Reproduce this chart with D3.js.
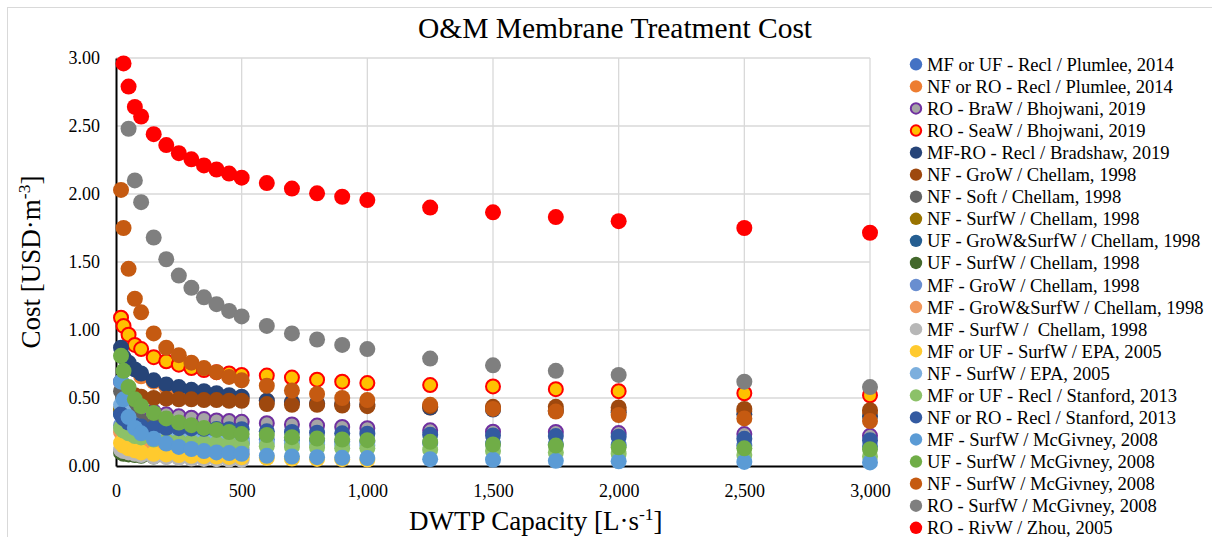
<!DOCTYPE html>
<html>
<head>
<meta charset="utf-8">
<script src="https://cdn.jsdelivr.net/npm/d3@7"></script>
<style>
  body { margin: 0; background: #fff; }
  text { font-family: "Liberation Serif", "Times New Roman", serif; fill: #000; }
</style>
</head>
<body>
<div class="chart"></div>
<script>
// capacity steps shared by all curves [L/s]
var capacity = [20, 30, 50, 75, 100, 150, 200, 250, 300, 350, 400, 450, 500,
  600, 700, 800, 900, 1000, 1250, 1500, 1750, 2000, 2500, 3000];

var seriesNames = [
  "MF or UF - Recl / Plumlee, 2014",
  "NF or RO - Recl / Plumlee, 2014",
  "RO - BraW / Bhojwani, 2019",
  "RO - SeaW / Bhojwani, 2019",
  "MF-RO - Recl / Bradshaw, 2019",
  "NF - GroW / Chellam, 1998",
  "NF - Soft / Chellam, 1998",
  "NF - SurfW / Chellam, 1998",
  "UF - GroW&SurfW / Chellam, 1998",
  "UF - SurfW / Chellam, 1998",
  "MF - GroW / Chellam, 1998",
  "MF - GroW&SurfW / Chellam, 1998",
  "MF - SurfW /  Chellam, 1998",
  "MF or UF - SurfW / EPA, 2005",
  "NF - SurfW / EPA, 2005",
  "MF or UF - Recl / Stanford, 2013",
  "NF or RO - Recl / Stanford, 2013",
  "MF - SurfW / McGivney, 2008",
  "UF - SurfW / McGivney, 2008",
  "NF - SurfW / McGivney, 2008",
  "RO - SurfW / McGivney, 2008",
  "RO - RivW / Zhou, 2005"
];

// O&M cost [USD/m3], one value per capacity step (null = not shown)
var plumleeMfUf = [0.40, 0.36, 0.31, 0.28, 0.26, 0.24, 0.23, 0.225, 0.22, 0.215, 0.21, 0.205, 0.20,
  0.195, 0.19, 0.185, 0.18, 0.178, 0.17, 0.165, 0.16, 0.155, 0.15, 0.145];
var plumleeNfRo = [null, null, null, null, 0.66, 0.62, 0.58, 0.56, 0.54, 0.53, 0.52, 0.51, 0.50,
  0.48, 0.47, 0.46, 0.455, 0.45, 0.43, 0.42, 0.41, 0.41, 0.40, 0.39];
var bhojwaniBraW = [0.62, 0.55, 0.48, 0.44, 0.42, 0.40, 0.38, 0.365, 0.355, 0.345, 0.335, 0.33, 0.325,
  0.315, 0.305, 0.297, 0.287, 0.278, 0.262, 0.252, 0.25, 0.242, 0.235, 0.222];
var bhojwaniSeaW = [1.09, 1.03, 0.965, 0.89, 0.86, 0.80, 0.77, 0.745, 0.72, 0.705, 0.69, 0.68, 0.67,
  0.665, 0.65, 0.635, 0.62, 0.61, 0.595, 0.585, 0.565, 0.55, 0.535, 0.52];
var bradshawMfRo = [0.87, 0.80, 0.76, 0.71, 0.68, 0.63, 0.60, 0.58, 0.56, 0.55, 0.535, 0.52, 0.51,
  0.48, 0.47, 0.46, 0.455, 0.45, 0.43, 0.415, 0.405, 0.395, 0.38, 0.365];
var chellamNfGroW = [null, null, 0.55, 0.52, 0.51, 0.50, 0.495, 0.49, 0.49, 0.485, 0.485, 0.48, 0.48,
  0.455, 0.45, 0.45, 0.445, 0.44, 0.44, 0.435, 0.435, 0.43, 0.42, 0.41];
var chellamNfSoft = [0.55, 0.47, 0.40, 0.36, 0.33, 0.30, 0.28];
var chellamNfSurfW = [0.42, 0.38, 0.33, 0.30, 0.28, 0.26, 0.25];
var chellamUfGroSurf = [0.38, 0.34, 0.30, 0.27, 0.25, 0.23, 0.21, 0.20, 0.19, 0.185, 0.18, 0.175, 0.17];
var chellamUfSurfW = [0.10, 0.09, 0.085, 0.08, 0.075, 0.07];
var chellamMfGroW = [0.30, 0.27, 0.24, 0.21, 0.19, 0.17, 0.16, 0.15, 0.14, 0.135, 0.13, 0.125, 0.12];
var chellamMfGroSurf = [0.25, 0.22, 0.19, 0.17, 0.15, 0.13, 0.12, 0.11, 0.10, 0.095, 0.09, 0.088, 0.085];
var chellamMfSurfW = [0.12, 0.11, 0.10, 0.09, 0.08, 0.07, 0.065, 0.06, 0.055, 0.052, 0.05, 0.048, 0.045];
var epaMfUf = [0.17, 0.15, 0.13, 0.115, 0.10, 0.09, 0.085, 0.08, 0.075, 0.072, 0.07, 0.067, 0.065,
  0.06, 0.055, 0.052, 0.05, 0.048];
var epaNf = [0.45, 0.40, 0.34, 0.30, 0.27, 0.24, 0.22, 0.21, 0.20, 0.19, 0.185, 0.18, 0.175,
  0.17, 0.165, 0.16, 0.155, 0.15];
var stanfordMfUf = [0.28, 0.26, 0.24, 0.22, 0.21, 0.195, 0.185, 0.18, 0.175, 0.17, 0.165, 0.16, 0.155,
  0.145, 0.14, 0.135, 0.13, 0.13, 0.12, 0.11, 0.10, 0.09, 0.08, 0.07];
var stanfordNfRo = [0.38, 0.35, 0.32, 0.30, 0.29, 0.28, 0.28, 0.278, 0.276, 0.274, 0.272, 0.27, 0.27,
  0.255, 0.25, 0.245, 0.24, 0.238, 0.23, 0.225, 0.22, 0.215, 0.20, 0.19];
var mcgivneyMf = [0.62, 0.49, 0.36, 0.28, 0.24, 0.20, 0.165, 0.14, 0.125, 0.11, 0.10, 0.095, 0.09,
  0.075, 0.07, 0.065, 0.06, 0.058, 0.05, 0.046, 0.038, 0.035, 0.03, 0.026];
var mcgivneyUf = [0.81, 0.70, 0.58, 0.49, 0.44, 0.39, 0.35, 0.32, 0.30, 0.28, 0.265, 0.25, 0.235,
  0.228, 0.212, 0.202, 0.195, 0.19, 0.178, 0.158, 0.15, 0.138, 0.13, 0.123];
var mcgivneyNf = [2.03, 1.75, 1.45, 1.23, 1.13, 0.975, 0.87, 0.815, 0.76, 0.72, 0.69, 0.655, 0.63,
  0.59, 0.555, 0.53, 0.50, 0.485, 0.45, 0.42, 0.40, 0.375, 0.35, 0.33];
var mcgivneyRo = [null, null, 2.48, 2.10, 1.94, 1.68, 1.52, 1.40, 1.31, 1.24, 1.19, 1.14, 1.10,
  1.03, 0.975, 0.93, 0.89, 0.86, 0.79, 0.74, 0.70, 0.67, 0.62, 0.58];
var zhouRivW = [null, 2.96, 2.79, 2.64, 2.57, 2.44, 2.36, 2.30, 2.255, 2.21, 2.18, 2.15, 2.12,
  2.08, 2.04, 2.005, 1.98, 1.955, 1.90, 1.865, 1.83, 1.80, 1.75, 1.715];

var seriesValues = [plumleeMfUf, plumleeNfRo, bhojwaniBraW, bhojwaniSeaW, bradshawMfRo,
  chellamNfGroW, chellamNfSoft, chellamNfSurfW, chellamUfGroSurf, chellamUfSurfW,
  chellamMfGroW, chellamMfGroSurf, chellamMfSurfW, epaMfUf, epaNf, stanfordMfUf,
  stanfordNfRo, mcgivneyMf, mcgivneyUf, mcgivneyNf, mcgivneyRo, zhouRivW];

var xTicks = [0, 500, 1000, 1500, 2000, 2500, 3000];
var yTicks = [0, 0.5, 1, 1.5, 2, 2.5, 3];

var fills = ["#4472C4", "#ED7D31", "#A5A5A5", "#FFC000", "#264478", "#9E480E", "#636363",
  "#997300", "#255E91", "#43682B", "#698ED0", "#F1975A", "#B7B7B7", "#FFCA2E", "#7CAFDD",
  "#8CC168", "#335AA1", "#5B9BD5", "#70AD47", "#C55A11", "#7F7F7F", "#FF0000"];
var strokes = { 2: "#7030A0", 3: "#FF0000" };

var svgWidth = 1212;
var svgHeight = 537;

var margin = { top: 58, left: 116 };
var width = 870 - 116;
var height = 466 - 58;

var svg = d3.select(".chart")
  .append("svg")
  .attr("width", svgWidth)
  .attr("height", svgHeight);

svg.append("rect")
  .attr("x", 7.5)
  .attr("y", 7.5)
  .attr("width", 1212)
  .attr("height", 560)
  .attr("fill", "#fff")
  .attr("stroke", "#d9d9d9");

svg.append("text")
  .attr("x", 615)
  .attr("y", 38)
  .attr("text-anchor", "middle")
  .attr("font-size", "29.5px")
  .text("O&M Membrane Treatment Cost");

var chartGroup = svg.append("g")
  .attr("transform", `translate(${margin.left}, ${margin.top})`);

var xScale = d3.scaleLinear().domain([0, 3000]).range([0, width]);
var yScale = d3.scaleLinear().domain([0, 3]).range([height, 0]);

// gridlines
chartGroup.selectAll(".vgrid")
  .data(xTicks.slice(1))
  .enter()
  .append("line")
  .attr("x1", d => xScale(d))
  .attr("x2", d => xScale(d))
  .attr("y1", 0)
  .attr("y2", height)
  .attr("stroke", "#d9d9d9")
  .attr("stroke-width", 1.3);

chartGroup.selectAll(".hgrid")
  .data(yTicks.slice(1))
  .enter()
  .append("line")
  .attr("x1", 0)
  .attr("x2", width)
  .attr("y1", d => yScale(d))
  .attr("y2", d => yScale(d))
  .attr("stroke", "#d9d9d9")
  .attr("stroke-width", 1.3);

var bottomAxis = d3.axisBottom(xScale)
  .tickValues(xTicks)
  .tickSize(0)
  .tickPadding(18)
  .tickFormat(d3.format(","));

var leftAxis = d3.axisLeft(yScale)
  .tickValues(yTicks)
  .tickSize(0)
  .tickPadding(16)
  .tickFormat(d3.format(".2f"));

var xAxis = chartGroup.append("g")
  .attr("transform", `translate(0, ${height})`)
  .call(bottomAxis);

var yAxis = chartGroup.append("g")
  .call(leftAxis);

[xAxis, yAxis].forEach(function(ax) {
  ax.select(".domain").attr("stroke", "#000").attr("stroke-width", 2);
  ax.selectAll("text")
    .attr("font-family", "Liberation Serif")
    .attr("font-size", "18px")
    .attr("fill", "#000");
});

// markers, series drawn in legend order
seriesValues.forEach(function(values, i) {
  var pts = values.map((v, j) => ({ x: capacity[j], y: v })).filter(d => d.y !== null);
  var bordered = strokes[i] !== undefined;
  chartGroup.append("g")
    .selectAll("circle")
    .data(pts)
    .enter()
    .append("circle")
    .attr("cx", d => xScale(d.x))
    .attr("cy", d => yScale(d.y))
    .attr("r", bordered ? 7 : 8)
    .attr("fill", fills[i])
    .attr("stroke", bordered ? strokes[i] : "none")
    .attr("stroke-width", bordered ? 2 : 0);
});

// axis titles
var yLabel = svg.append("text")
  .attr("transform", "translate(40, 262) rotate(-90)")
  .attr("text-anchor", "middle")
  .attr("font-size", "27px");
yLabel.append("tspan").text("Cost [USD·m");
yLabel.append("tspan").attr("dy", -10).attr("font-size", "17.5px").text("-3");
yLabel.append("tspan").attr("dy", 10).text("]");

var xLabel = svg.append("text")
  .attr("x", 409)
  .attr("y", 530)
  .attr("text-anchor", "start")
  .attr("font-size", "27px");
xLabel.append("tspan").text("DWTP Capacity [L·s");
xLabel.append("tspan").attr("dy", -10).attr("font-size", "17.5px").text("-1");
xLabel.append("tspan").attr("dy", 10).text("]");

// legend
var legend = svg.append("g");
var legendItems = legend.selectAll("g")
  .data(seriesNames)
  .enter()
  .append("g")
  .attr("transform", (d, i) => `translate(916, ${64.3 + i * 22.07})`);

legendItems.append("circle")
  .attr("r", (d, i) => strokes[i] ? 5.2 : 6.2)
  .attr("fill", (d, i) => fills[i])
  .attr("stroke", (d, i) => strokes[i] || "none")
  .attr("stroke-width", (d, i) => strokes[i] ? 2 : 0);

legendItems.append("text")
  .attr("x", 11)
  .attr("dy", "0.35em")
  .attr("font-size", "18.6px")
  .style("white-space", "pre")
  .text(d => d);
</script>
</body>
</html>
